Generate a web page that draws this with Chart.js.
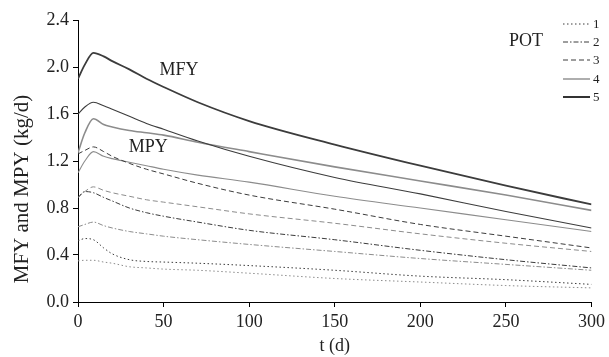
<!DOCTYPE html>
<html>
<head>
<meta charset="utf-8">
<script src="https://cdn.jsdelivr.net/npm/chart.js@4"></script>
<style>
  html, body { margin: 0; padding: 0; background: #fff; }
  #wrap { width: 609px; height: 357px; }
</style>
</head>
<body>
<div id="wrap"><canvas id="chart" width="609" height="357"></canvas></div>
<script>
// time points (d)
var days = [0, 4, 9, 15, 20, 30, 40, 50, 70, 100, 150, 200, 250, 300];

// MFY (kg/d), one per POT
var mfy1 = [0.52, 0.54, 0.53, 0.46, 0.41, 0.36, 0.345, 0.34, 0.33, 0.31, 0.27, 0.22, 0.19, 0.15];
var mfy2 = [0.89, 0.94, 0.93, 0.89, 0.86, 0.80, 0.76, 0.73, 0.68, 0.61, 0.53, 0.44, 0.36, 0.29];
var mfy3 = [1.26, 1.29, 1.32, 1.28, 1.24, 1.18, 1.13, 1.09, 1.01, 0.91, 0.79, 0.66, 0.56, 0.46];
var mfy4 = [1.60, 1.66, 1.70, 1.67, 1.64, 1.58, 1.52, 1.47, 1.37, 1.24, 1.06, 0.92, 0.77, 0.63];
var mfy5 = [1.90, 2.02, 2.12, 2.09, 2.05, 1.98, 1.90, 1.83, 1.70, 1.54, 1.34, 1.16, 0.99, 0.83];

// MPY (kg/d), one per POT
var mpy1 = [0.35, 0.355, 0.355, 0.34, 0.33, 0.30, 0.29, 0.28, 0.27, 0.245, 0.20, 0.17, 0.14, 0.12];
var mpy2 = [0.64, 0.66, 0.68, 0.65, 0.63, 0.60, 0.58, 0.56, 0.53, 0.49, 0.43, 0.37, 0.32, 0.27];
var mpy3 = [0.89, 0.94, 0.98, 0.95, 0.93, 0.90, 0.87, 0.85, 0.81, 0.75, 0.67, 0.58, 0.50, 0.43];
var mpy4 = [1.10, 1.20, 1.28, 1.24, 1.22, 1.19, 1.16, 1.13, 1.08, 1.02, 0.90, 0.80, 0.70, 0.60];
var mpy5 = [1.27, 1.44, 1.56, 1.51, 1.49, 1.46, 1.44, 1.42, 1.36, 1.28, 1.15, 1.03, 0.91, 0.78];

var xTicks = [0, 50, 100, 150, 200, 250, 300];
var yTicks = [0, 0.4, 0.8, 1.2, 1.6, 2.0, 2.4];
var potLabels = ["1", "2", "3", "4", "5"];

var FONT = "'Liberation Serif', 'Times New Roman', serif";
var DARK = "#3c3c3c", GREY = "#8c8c8c";
var dashes = [[1.5, 2.5], [5, 2, 1.5, 2], [5, 3], [], []];

function pts(vals) {
  return vals.map(function (v, i) { return { x: days[i], y: v }; });
}

function line(label, vals, color, width, dash) {
  return {
    label: label,
    data: pts(vals),
    borderColor: color,
    borderWidth: width,
    borderDash: dash,
    pointRadius: 0,
    fill: false,
    cubicInterpolationMode: "monotone"
  };
}

var mfy = [mfy1, mfy2, mfy3, mfy4, mfy5];
var mpy = [mpy1, mpy2, mpy3, mpy4, mpy5];
var datasets = [];
for (var i = 0; i < 5; i++) {
  var w = i == 4 ? 1.8 : (i == 3 ? 1.1 : 1);
  datasets.push(line("MFY " + potLabels[i], mfy[i], DARK, w, dashes[i]));
  datasets.push(line("MPY " + potLabels[i], mpy[i], GREY, i == 4 ? 1.6 : w, dashes[i]));
}

// text labels on the plot, y title + POT key
var extras = {
  id: "extras",
  afterDraw: function (chart) {
    var c = chart.ctx, xs = chart.scales.x, ys = chart.scales.y;
    c.save();
    c.fillStyle = "#222";
    c.font = "18px " + FONT;
    c.textAlign = "center";
    c.textBaseline = "middle";
    c.fillText("MFY", xs.getPixelForValue(59), ys.getPixelForValue(1.97));
    c.fillText("MPY", xs.getPixelForValue(41), ys.getPixelForValue(1.32));
    c.fillText("POT", 526, 41);

    c.save();
    c.translate(22, 189);
    c.rotate(-Math.PI / 2);
    c.font = "21px " + FONT;
    c.fillText("MFY and MPY (kg/d)", 0, 0);
    c.restore();

    var rows = [24, 42, 60, 79, 97];
    var cols = [DARK, DARK, DARK, "#777", "#333"];
    var widths = [1, 1, 1, 1.2, 2];
    c.font = "13px " + FONT;
    c.textAlign = "left";
    for (var k = 0; k < 5; k++) {
      c.beginPath();
      c.setLineDash(dashes[k]);
      c.strokeStyle = cols[k];
      c.lineWidth = widths[k];
      c.moveTo(563, rows[k]);
      c.lineTo(590, rows[k]);
      c.stroke();
      c.fillText(potLabels[k], 593, rows[k] + 1);
    }
    c.restore();
  }
};

var ctx = document.getElementById("chart");
var chartGraph = new Chart(ctx, {
  type: "line",
  data: { datasets: datasets },
  options: {
    responsive: false,
    animation: false,
    layout: { padding: { left: 0, right: 15, top: 20, bottom: 0 } },
    plugins: { legend: { display: false }, tooltip: { enabled: false } },
    scales: {
      x: {
        type: "linear",
        min: 0, max: 300,
        afterBuildTicks: function (s) { s.ticks = xTicks.map(function (v) { return { value: v }; }); },
        afterFit: function (s) { s.height = 55; },
        grid: { drawOnChartArea: false, drawTicks: true, tickLength: 5, color: "#000" },
        border: { display: true, color: "#000", width: 1 },
        ticks: { color: "#222", font: { family: FONT, size: 18 }, padding: 4, maxRotation: 0 },
        title: { display: true, text: "t (d)", color: "#222", font: { family: FONT, size: 18 }, padding: { top: 0, bottom: 0 } }
      },
      y: {
        min: 0, max: 2.4,
        afterBuildTicks: function (s) { s.ticks = yTicks.map(function (v) { return { value: v }; }); },
        afterFit: function (s) { s.width = 78; },
        grid: { drawOnChartArea: false, drawTicks: true, tickLength: 5, color: "#000" },
        border: { display: true, color: "#000", width: 1 },
        ticks: { color: "#222", font: { family: FONT, size: 18 }, padding: 4,
                 callback: function (v) { return v.toFixed(1); } },
        title: { display: false }
      }
    }
  },
  plugins: [extras]
});
</script>
</body>
</html>
